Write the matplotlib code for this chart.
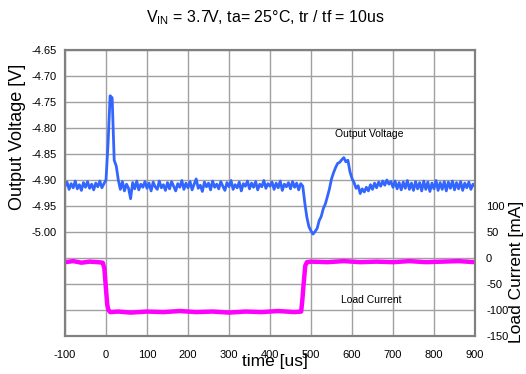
import matplotlib
matplotlib.use('Agg')
import matplotlib.pyplot as plt

plt.rcParams['font.family'] = ['Liberation Sans', 'DejaVu Sans']
plt.rcParams['mathtext.fontset'] = 'custom'
plt.rcParams['mathtext.rm'] = 'Liberation Sans'
plt.rcParams['axes.unicode_minus'] = False

# time grid of the voltage trace [us]
t_us = list(range(-100, 905, 5))

# output voltage [V], every 5 us
v_out = [
    -4.912, -4.904, -4.918, -4.907, -4.915, -4.902, -4.917, -4.909, -4.920, -4.905,
    -4.914, -4.903, -4.916, -4.908, -4.919, -4.906, -4.913, -4.902, -4.915, -4.907,
    -4.900, -4.830, -4.738, -4.742, -4.862, -4.873, -4.900, -4.918, -4.903, -4.921,
    -4.908, -4.916, -4.936, -4.905, -4.917, -4.902, -4.919, -4.908, -4.914, -4.903,
    -4.916, -4.906, -4.921, -4.904, -4.913, -4.918, -4.902, -4.915, -4.909, -4.920,
    -4.905, -4.917, -4.903, -4.912, -4.921, -4.907, -4.914, -4.901, -4.918, -4.906,
    -4.915, -4.903, -4.919, -4.908, -4.898, -4.916, -4.910, -4.922, -4.904, -4.913,
    -4.906, -4.919, -4.902, -4.914, -4.908, -4.917, -4.903, -4.912, -4.920, -4.905,
    -4.913, -4.901, -4.918, -4.909, -4.915, -4.904, -4.921, -4.907, -4.912, -4.902,
    -4.917, -4.906, -4.914, -4.903, -4.919, -4.908, -4.913, -4.901, -4.916, -4.907,
    -4.912, -4.904, -4.918, -4.906, -4.915, -4.902, -4.920, -4.908, -4.913, -4.905,
    -4.917, -4.903, -4.914, -4.906, -4.919, -4.907, -4.912, -4.945, -4.972, -4.990,
    -4.998, -5.004, -4.999, -4.993, -4.978, -4.970, -4.955, -4.946, -4.932, -4.917,
    -4.898, -4.886, -4.876, -4.868, -4.866, -4.861, -4.857, -4.865, -4.862, -4.884,
    -4.897, -4.905, -4.916, -4.911, -4.926, -4.917, -4.923, -4.914, -4.921, -4.909,
    -4.918, -4.906, -4.915, -4.904, -4.912, -4.902, -4.910, -4.900, -4.908, -4.903,
    -4.914, -4.902, -4.917, -4.905, -4.919, -4.904, -4.916, -4.901, -4.918, -4.906,
    -4.920, -4.903, -4.917, -4.905, -4.921, -4.902, -4.918, -4.904, -4.922, -4.906,
    -4.917, -4.901, -4.920, -4.905, -4.918, -4.903, -4.921, -4.904, -4.916, -4.902,
    -4.919, -4.905, -4.917, -4.903, -4.920, -4.906, -4.915, -4.904, -4.918, -4.908,
    -4.912,
]

# load current [mA]
cur_t = [-100, -80, -60, -40, -20, -8, -4, 0, 3, 6,
         10, 30, 60, 100, 140, 180, 220, 260, 300, 340,
         380, 420, 460, 476, 479, 482, 486, 490, 500, 540,
         580, 620, 660, 700, 740, 780, 820, 860, 900]
cur_ma = [-8, -6, -9, -7, -8, -9, -20, -60, -90, -100,
          -104, -103, -105, -103, -104, -102, -104, -103, -105, -103,
          -104, -102, -104, -103, -80, -50, -15, -8, -7, -8,
          -6, -8, -7, -8, -6, -8, -7, -6, -8]

x_ticks = list(range(-100, 1000, 100))
v_ticks = [-5.20, -5.15, -5.10, -5.05, -5.00, -4.95, -4.90, -4.85, -4.80, -4.75, -4.70, -4.65]
v_labels = ['', '', '', '', '-5.00', '-4.95', '-4.90', '-4.85', '-4.80', '-4.75', '-4.70', '-4.65']
i_ticks = [-150, -100, -50, 0, 50, 100, 150, 200, 250, 300, 350, 400]
i_labels = ['-150', '-100', '-50', '0', '50', '100', '', '', '', '', '', '']

fig = plt.figure(figsize=(5.26, 3.74), dpi=100)
ax = fig.add_axes([65 / 526, 1 - 336 / 374, 410 / 526, 286 / 374])
ax2 = ax.twinx()

ax.plot(t_us, v_out, color='#3366ff', lw=2.0)
ax2.plot(cur_t, cur_ma, color='#ff00ff', lw=3.2, solid_capstyle='butt')

ax.set_xlim(-100, 900)
ax.set_ylim(-5.20, -4.65)
ax2.set_ylim(-150, 400)
ax.set_xticks(x_ticks)
ax.set_yticks(v_ticks)
ax.set_yticklabels(v_labels)
ax2.set_yticks(i_ticks)
ax2.set_yticklabels(i_labels)

ax.grid(True, color='#a0a0a0', lw=1.0)
ax.set_axisbelow(True)
for a in (ax, ax2):
    for s in a.spines.values():
        s.set_color('#808080')
        s.set_linewidth(1.5)
    a.tick_params(length=0, labelsize=8, colors='black')
ax.tick_params(axis='y', pad=6)
ax.tick_params(axis='x', pad=10)
ax2.tick_params(axis='y', pad=8)

fig.text(265 / 526, 1 - 18 / 374, r'$\mathregular{V_{IN}}$ = 3.7V, ta= 25°C, tr / tf = 10us',
         ha='center', va='center', fontsize=11.5)
fig.text(18 / 526, 1 - 137 / 374, 'Output Voltage [V]', rotation=90,
         ha='center', va='center', fontsize=13)
fig.text(517 / 526, 1 - 272 / 374, 'Load Current [mA]', rotation=90,
         ha='center', va='center', fontsize=12.5)
fig.text(275 / 526, 1 - 366 / 374, 'time [us]', ha='center', va='baseline', fontsize=12.5)
ax.text(641, -4.812, 'Output Voltage', ha='center', va='center', fontsize=7.5)
ax2.text(646, -81, 'Load Current', ha='center', va='center', fontsize=7.5)

fig.savefig('out.png', dpi=100)
